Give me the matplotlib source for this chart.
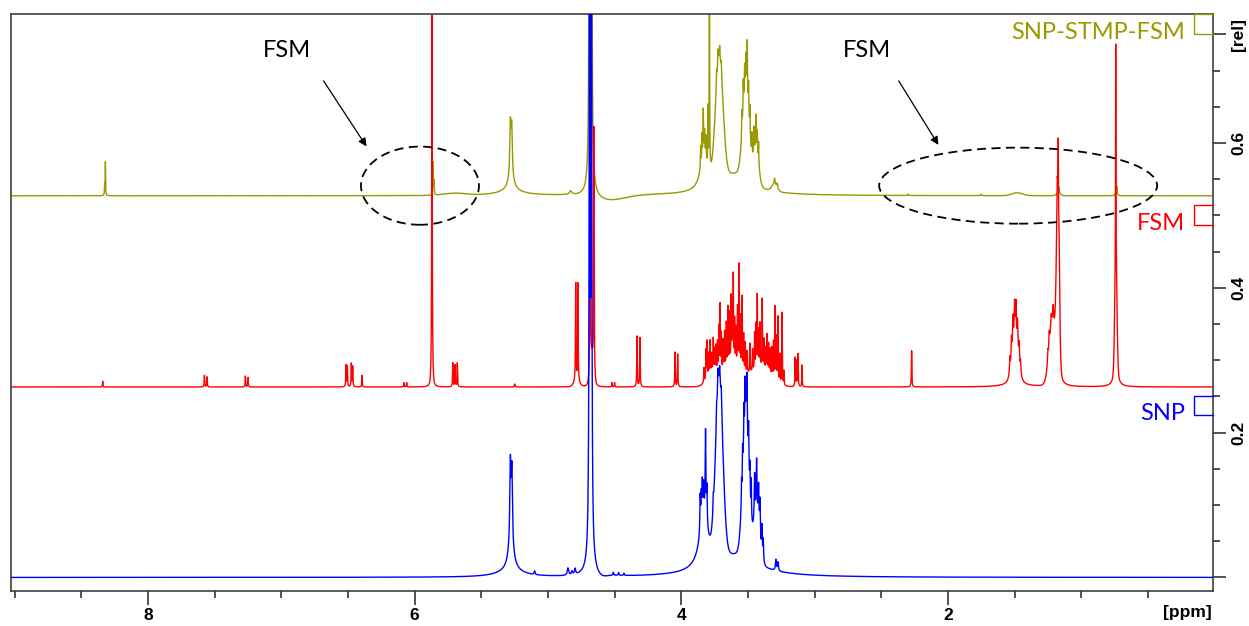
import numpy as np
import matplotlib.pyplot as plt
from matplotlib.patches import Ellipse
import matplotlib.transforms as mtransforms

# ---- peak lists ----
# lines: (ppm, height [rel], half width [ppm]) -> lorentzian
# humps: (ppm, height [rel], sigma [ppm]) -> broad gaussian bumps

# SNP (blue, bottom trace)
snp_lines = [
    (5.282, 0.11, 0.005), (5.271, 0.10, 0.005), (5.277, 0.035, 0.025), (5.28, 0.008, 0.12),
    (5.10, 0.005, 0.004), (4.85, 0.010, 0.006), (4.82, 0.005, 0.005), (4.797, 0.008, 0.005),
    (4.688, 0.9, 0.0035), (4.674, 0.9, 0.0035), (4.68, 0.025, 0.03),
    (4.51, 0.004, 0.003), (4.47, 0.004, 0.003), (4.43, 0.003, 0.003),
    (3.60, 0.03, 0.2), (3.83, 0.07, 0.04),
    (3.858, 0.05, 0.003), (3.85, 0.04, 0.003), (3.842, 0.05, 0.003), (3.832, 0.04, 0.003),
    (3.818, 0.12, 0.003), (3.808, 0.05, 0.003),
    (3.76, 0.02, 0.003), (3.735, 0.025, 0.003), (3.725, 0.03, 0.003), (3.712, 0.02, 0.003),
    (3.70, 0.025, 0.003),
    (3.548, 0.03, 0.002), (3.54, 0.04, 0.002), (3.53, 0.05, 0.002), (3.522, 0.06, 0.002),
    (3.514, 0.05, 0.002), (3.507, 0.07, 0.002), (3.495, 0.05, 0.002), (3.485, 0.04, 0.002),
    (3.475, 0.05, 0.002), (3.45, 0.06, 0.003), (3.435, 0.07, 0.003), (3.42, 0.05, 0.003),
    (3.41, 0.05, 0.003), (3.395, 0.04, 0.003), (3.385, 0.03, 0.003),
    (3.29, 0.015, 0.004), (3.275, 0.012, 0.004),
]
snp_humps = [
    (3.715, 0.24, 0.027), (3.515, 0.19, 0.024), (3.435, 0.07, 0.022), (4.60, -0.004, 0.04),
]

# FSM (red, middle trace)
fsm_lines = [
    (8.34, 0.008, 0.002), (7.577, 0.016, 0.002), (7.557, 0.014, 0.002),
    (7.27, 0.015, 0.002), (7.25, 0.013, 0.002),
    (6.515, 0.030, 0.002), (6.505, 0.028, 0.002), (6.475, 0.032, 0.002), (6.465, 0.028, 0.002),
    (6.395, 0.016, 0.002), (6.08, 0.006, 0.002), (6.06, 0.006, 0.002),
    (5.87, 0.9, 0.0015),
    (5.714, 0.033, 0.002), (5.697, 0.030, 0.002), (5.68, 0.033, 0.002),
    (5.25, 0.004, 0.003),
    (4.792, 0.135, 0.002), (4.775, 0.135, 0.002),
    (4.684, 0.38, 0.002), (4.655, 0.34, 0.002),
    (4.52, 0.006, 0.002), (4.50, 0.006, 0.002),
    (4.332, 0.07, 0.002), (4.31, 0.068, 0.002),
    (4.047, 0.048, 0.002), (4.027, 0.045, 0.002),
    (3.83, 0.02, 0.0018), (3.815, 0.04, 0.0018), (3.807, 0.05, 0.0018), (3.795, 0.03, 0.0018),
    (3.784, 0.045, 0.0018), (3.772, 0.025, 0.0018), (3.76, 0.045, 0.0018), (3.75, 0.03, 0.0018),
    (3.74, 0.035, 0.0018), (3.728, 0.04, 0.0018), (3.718, 0.06, 0.0018), (3.709, 0.09, 0.0018),
    (3.70, 0.05, 0.0018), (3.686, 0.04, 0.0018), (3.675, 0.05, 0.0018), (3.662, 0.06, 0.0018),
    (3.65, 0.08, 0.0018), (3.638, 0.07, 0.0018), (3.626, 0.09, 0.0018), (3.618, 0.08, 0.0018),
    (3.61, 0.12, 0.0018), (3.60, 0.06, 0.0018), (3.59, 0.05, 0.0018), (3.578, 0.08, 0.0018),
    (3.567, 0.14, 0.0018), (3.556, 0.07, 0.0018), (3.544, 0.10, 0.0018), (3.532, 0.05, 0.0018),
    (3.52, 0.04, 0.0018), (3.505, 0.03, 0.0018), (3.484, 0.04, 0.0018), (3.465, 0.03, 0.0018),
    (3.45, 0.05, 0.0018), (3.44, 0.06, 0.0018), (3.43, 0.10, 0.0018), (3.42, 0.05, 0.0018),
    (3.41, 0.06, 0.0018), (3.393, 0.095, 0.0018), (3.38, 0.04, 0.0018), (3.366, 0.03, 0.0018),
    (3.356, 0.05, 0.0018), (3.345, 0.04, 0.0018), (3.334, 0.035, 0.0018), (3.32, 0.04, 0.0018),
    (3.308, 0.05, 0.0018), (3.296, 0.10, 0.0018), (3.285, 0.06, 0.0018), (3.274, 0.09, 0.0018),
    (3.26, 0.04, 0.0018), (3.244, 0.10, 0.0018), (3.23, 0.02, 0.0018),
    (3.146, 0.04, 0.0018), (3.135, 0.035, 0.0018), (3.124, 0.045, 0.0018), (3.094, 0.03, 0.0018),
    (2.272, 0.05, 0.002),
    (1.535, 0.02, 0.003), (1.523, 0.03, 0.003), (1.512, 0.04, 0.003), (1.50, 0.045, 0.003),
    (1.49, 0.045, 0.003), (1.478, 0.035, 0.003), (1.466, 0.025, 0.003), (1.455, 0.015, 0.003),
    (1.495, 0.015, 0.05),
    (1.25, 0.015, 0.003), (1.24, 0.02, 0.003), (1.225, 0.015, 0.003), (1.21, 0.02, 0.003),
    (1.172, 0.08, 0.0015), (1.18, 0.03, 0.002), (1.165, 0.03, 0.002), (1.175, 0.02, 0.03),
    (0.741, 0.3, 0.0015), (0.74, 0.025, 0.02),
]
fsm_humps = [
    (5.87, 0.02, 0.006), (4.785, 0.008, 0.02), (4.67, 0.04, 0.012),
    (3.62, 0.03, 0.08), (3.40, 0.025, 0.07), (3.77, 0.015, 0.04),
    (1.495, 0.055, 0.022), (1.215, 0.085, 0.025), (1.175, 0.23, 0.01), (0.74, 0.15, 0.008),
]

# SNP-STMP-FSM (olive, top trace)
stmp_lines = [
    (8.32, 0.045, 0.0015), (8.325, 0.015, 0.002),
    (5.862, 0.045, 0.0015), (5.855, 0.02, 0.002),
    (5.282, 0.07, 0.005), (5.272, 0.065, 0.005), (5.277, 0.02, 0.025), (5.28, 0.006, 0.12),
    (4.83, 0.005, 0.01),
    (4.688, 0.8, 0.0035), (4.674, 0.8, 0.0035), (4.68, 0.02, 0.03),
    (3.60, 0.03, 0.15), (3.83, 0.05, 0.03),
    (3.855, 0.03, 0.002), (3.845, 0.035, 0.002), (3.835, 0.06, 0.002), (3.825, 0.03, 0.002),
    (3.815, 0.03, 0.002), (3.80, 0.08, 0.0015), (3.789, 0.45, 0.0015),
    (3.735, 0.02, 0.002), (3.725, 0.02, 0.002), (3.712, 0.015, 0.002), (3.70, 0.015, 0.002),
    (3.545, 0.03, 0.002), (3.535, 0.04, 0.002), (3.525, 0.035, 0.002), (3.515, 0.04, 0.002),
    (3.505, 0.07, 0.002), (3.495, 0.04, 0.002), (3.485, 0.04, 0.002), (3.47, 0.03, 0.002),
    (3.455, 0.035, 0.002), (3.44, 0.045, 0.002), (3.43, 0.03, 0.002), (3.42, 0.03, 0.002),
    (3.30, 0.008, 0.003), (3.28, 0.006, 0.003),
    (2.30, 0.002, 0.003), (1.75, 0.002, 0.003), (1.167, 0.008, 0.002), (0.733, 0.01, 0.002),
]
stmp_humps = [
    (4.55, -0.008, 0.12), (5.70, 0.003, 0.08), (3.715, 0.17, 0.028), (3.515, 0.13, 0.024),
    (3.44, 0.05, 0.02), (3.30, 0.01, 0.02), (1.48, 0.004, 0.04), (1.17, 0.004, 0.015),
    (0.735, 0.003, 0.01),
]

# vertical stacking of the three traces [rel]
offsets = {"SNP": 0.0, "FSM": 0.263, "SNP-STMP-FSM": 0.527}
colours = {"SNP": "#0000ff", "FSM": "#ff0000", "SNP-STMP-FSM": "#999900"}


def spectrum(ppm, lines, humps):
    """Adds up the lorentzian lines and gaussian humps of one trace"""
    y = np.zeros_like(ppm)
    for c, h, w in lines:
        y += h * w**2 / ((ppm - c)**2 + w**2)
    for c, h, s in humps:
        y += h * np.exp(-(ppm - c)**2 / (2 * s**2))
    return y


ppm = np.linspace(9.028, 0.011, 40000)
traces = [
    ("SNP-STMP-FSM", stmp_lines, stmp_humps, 2),
    ("FSM", fsm_lines, fsm_humps, 3),
    ("SNP", snp_lines, snp_humps, 4),
]

fig = plt.figure(figsize=(12.49, 6.26), dpi=100)
ax = fig.add_axes([0.0088, 0.0559, 0.9624, 0.9217])

for name, lines, humps, z in traces:
    ax.plot(ppm, offsets[name] + spectrum(ppm, lines, humps), color=colours[name], lw=1.0, zorder=z)

ax.set_xlim(9.028, 0.011)
ax.set_ylim(-0.0187, 0.778)

# x axis (ppm)
tick_font = dict(family="Liberation Sans", weight="bold", size=12.5)
ax.set_xticks([8, 6, 4, 2])
ax.set_xticklabels(["8", "6", "4", "2"], fontdict=tick_font)
ax.set_xticks(np.arange(0.5, 9.01, 0.5), minor=True)
ax.tick_params(axis="x", which="major", length=10, width=1.2, direction="out", pad=2, color="#333333")
ax.tick_params(axis="x", which="minor", length=5, width=1.2, direction="out", color="#333333")
ax.text(0.999, -0.038, "[ppm]", transform=ax.transAxes, ha="right", va="center", fontdict=tick_font)

# y axis (rel) on the right, labels turned
ax.yaxis.tick_right()
ax.set_yticks([0.0, 0.2, 0.4, 0.6, 0.75])
ax.set_yticklabels(["", "0.2", "0.4", "0.6", "[rel]"], fontdict=tick_font, rotation=90, va="center")
ax.set_yticks(np.arange(0.05, 0.76, 0.05), minor=True)
ax.tick_params(axis="y", which="major", length=9, width=1.2, direction="out", pad=4, color="#333333")
ax.tick_params(axis="y", which="minor", length=5, width=1.2, direction="out", color="#333333")

for sp in ax.spines.values():
    sp.set_color("#404040")
    sp.set_linewidth(1.2)

# trace names with the little scale brackets at the right edge
trans = mtransforms.blended_transform_factory(ax.transAxes, ax.transData)
for name in ["SNP-STMP-FSM", "FSM", "SNP"]:
    base = offsets[name]
    ax.plot([1.0, 0.984, 0.984, 1.0], [base + 0.251, base + 0.251, base + 0.224, base + 0.224],
            color=colours[name], lw=1.0, transform=trans, clip_on=False, zorder=5)
    ax.text(0.977, base + 0.226, name, transform=trans, ha="right", va="center",
            color=colours[name], family="Lato", fontsize=17)

# FSM annotations on the top trace
for tx, arrow_from, arrow_to, centre, size in [
    (6.957, (6.695, 0.689), (6.35, 0.592), (5.96, 0.541), (0.885, 0.108)),
    (2.606, (2.38, 0.689), (2.06, 0.594), (1.473, 0.541), (2.085, 0.105)),
]:
    ax.text(tx, 0.727, "FSM", ha="center", va="center", family="Lato", fontsize=17, color="black")
    ax.annotate("", xy=arrow_to, xytext=arrow_from,
                arrowprops=dict(arrowstyle="-|>", color="black", lw=0.9, mutation_scale=12))
    ax.add_patch(Ellipse(centre, size[0], size[1], fill=False, ec="black", lw=1.3,
                         ls=(0, (5, 3)), zorder=6))

fig.savefig("out.png", dpi=100)
